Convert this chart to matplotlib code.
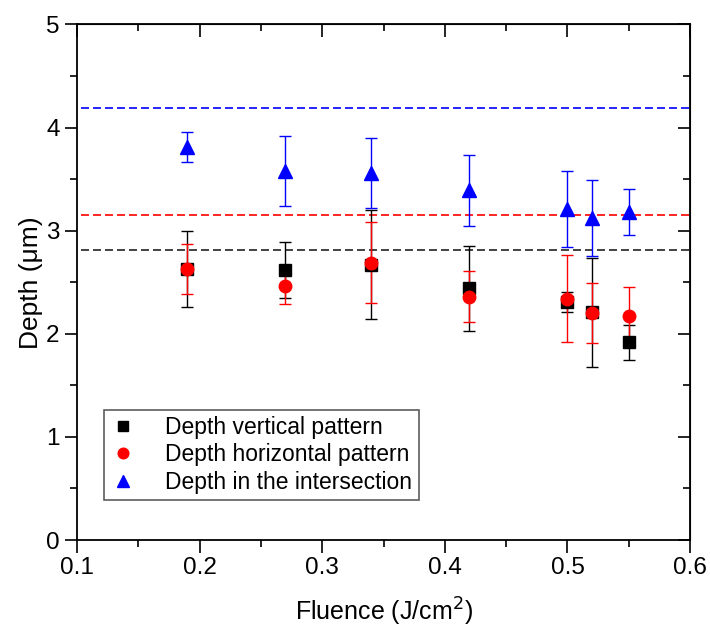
import matplotlib
matplotlib.use("Agg")
import matplotlib.pyplot as plt
from matplotlib.ticker import MultipleLocator, FormatStrFormatter

plt.rcParams["font.family"] = ["Liberation Sans", "DejaVu Sans"]

fluence = [0.19, 0.27, 0.34, 0.42, 0.50, 0.52, 0.55]

depth_vertical = [2.63, 2.62, 2.67, 2.44, 2.31, 2.21, 1.92]
err_vertical = [0.37, 0.27, 0.53, 0.41, 0.10, 0.53, 0.17]

depth_horizontal = [2.63, 2.46, 2.69, 2.36, 2.34, 2.20, 2.17]
err_horizontal = [0.24, 0.17, 0.39, 0.25, 0.42, 0.29, 0.285]

depth_intersection = [3.81, 3.58, 3.56, 3.39, 3.21, 3.12, 3.18]
err_intersection = [0.145, 0.34, 0.34, 0.34, 0.37, 0.37, 0.22]

ref_vertical = 2.81
ref_horizontal = 3.15
ref_intersection = 4.19

fig = plt.figure(figsize=(7.1, 6.31), dpi=100)
ax = fig.add_axes([0.1085, 0.1442, 0.8634, 0.817])

# reference levels
dash = (0, (4.8, 2.4))
ax.axhline(ref_intersection, xmin=0.007, xmax=1, color="#0000ff", linestyle=dash, linewidth=1.2)
ax.axhline(ref_horizontal, xmin=0.007, xmax=1, color="#ff0000", linestyle=dash, linewidth=1.2)
ax.axhline(ref_vertical, xmin=0.007, xmax=1, color="#222222", linestyle=dash, linewidth=1.2)

ax.errorbar(fluence, depth_vertical, yerr=err_vertical, fmt="s", color="black", ms=8,
            ecolor="black", elinewidth=1, capsize=4, capthick=1, label="Depth vertical pattern")
ax.errorbar(fluence, depth_horizontal, yerr=err_horizontal, fmt="o", color="#ff0000", ms=9,
            ecolor="#ff0000", elinewidth=1, capsize=4, capthick=1, label="Depth horizontal pattern")
ax.errorbar(fluence, depth_intersection, yerr=err_intersection, fmt="^", color="#0000ff", ms=10.5,
            ecolor="#0000ff", elinewidth=1, capsize=4, capthick=1, label="Depth in the intersection")

ax.set_xlim(0.1, 0.6)
ax.set_ylim(0, 5)
ax.xaxis.set_major_locator(MultipleLocator(0.1))
ax.xaxis.set_minor_locator(MultipleLocator(0.05))
ax.yaxis.set_major_locator(MultipleLocator(1))
ax.yaxis.set_minor_locator(MultipleLocator(0.5))
ax.xaxis.set_major_formatter(FormatStrFormatter("%.1f"))

ax.tick_params(which="both", direction="out", width=1.2, labelsize=17.5, top=False, right=False)
ax.tick_params(which="major", length=9)
ax.tick_params(which="minor", length=5)
for s in ax.spines.values():
    s.set_linewidth(1.3)

# mirrored inward ticks on top and right, no labels
sec_x = ax.secondary_xaxis("top")
sec_x.xaxis.set_major_locator(MultipleLocator(0.1))
sec_x.xaxis.set_minor_locator(MultipleLocator(0.05))
sec_x.tick_params(which="both", direction="in", width=1.2, labeltop=False)
sec_x.tick_params(which="major", length=9)
sec_x.tick_params(which="minor", length=5)
sec_y = ax.secondary_yaxis("right")
sec_y.yaxis.set_major_locator(MultipleLocator(1))
sec_y.yaxis.set_minor_locator(MultipleLocator(0.5))
sec_y.tick_params(which="both", direction="in", width=1.2, labelright=False)
sec_y.tick_params(which="major", length=9)
sec_y.tick_params(which="minor", length=5)

ax.set_xlabel("Fluence (J/cm$^2$)", fontsize=18, labelpad=12)
ax.set_ylabel("Depth (μm)", fontsize=19, labelpad=2)

handles, labels = ax.get_legend_handles_labels()
handles = [h[0] for h in handles]
leg = ax.legend(handles, labels, loc="lower left", bbox_to_anchor=(0.044, 0.078, 0.514, 0.18),
                mode="expand", borderaxespad=0, fontsize=16.5, frameon=True, fancybox=False,
                edgecolor="#333333", handlelength=1.2, handletextpad=1.2, borderpad=0.25,
                labelspacing=0.2, markerscale=0.85)
leg.get_frame().set_linewidth(1.2)

fig.savefig("out.png", dpi=100)
